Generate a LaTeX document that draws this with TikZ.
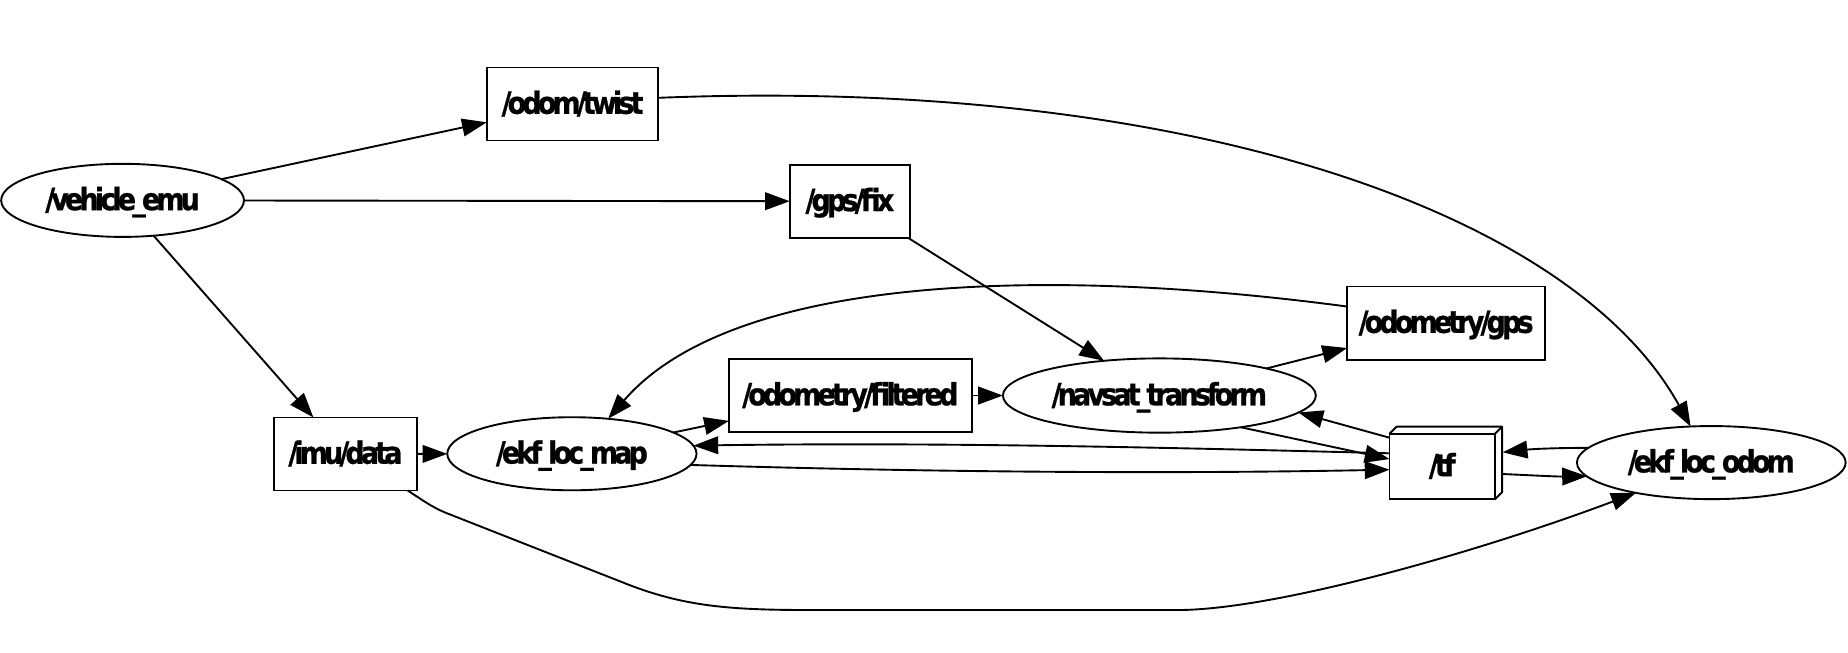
\documentclass[tikz,border=0pt]{standalone}
\usepackage{fontspec}
\newfontfamily\nodefont[FakeStretch=0.88,LetterSpace=-12.5,FakeBold=0.8]{DejaVu Sans}
\usetikzlibrary{arrows.meta,shapes.geometric,calc}
\begin{document}
\begin{tikzpicture}[x=1pt,y=-1pt,
  every node/.style={inner sep=0pt, outer sep=0pt, line width=1.6pt,
    text height=22.6pt, text depth=6pt,
    font=\nodefont\bfseries\fontsize{26}{26}\selectfont},
  topic/.style={draw, rectangle, minimum height=62pt},
  proc/.style={draw, ellipse, minimum height=62pt},
  arr/.style={line width=1.6pt, -{Triangle[length=21pt,width=15pt]}}]
\useasboundingbox (0,0) rectangle (1568,554);
% nodes
\node[proc, minimum width=206pt] (ve) at (104,170) {\makebox[0pt]{/vehicle\_emu}};
\node[topic, minimum width=145.5pt] (tw) at (485.8,88.25) {\makebox[0pt]{/odom/twist}};
\node[topic, minimum width=102pt] (gf) at (721.1,170.8) {\makebox[0pt]{/gps/fix}};
\node[topic, minimum width=168pt] (og) at (1227,274.1) {\makebox[0pt]{/odometry/gps}};
\node[topic, minimum width=206pt] (of) at (721.5,335.6) {\makebox[0pt]{/odometry/filtered}};
\node[proc, minimum width=265.5pt, minimum height=63pt] (nt) at (983.7,335.6) {\makebox[0pt]{/navsat\_transform}};
\node[topic, minimum width=120.7pt] (imu) at (293.1,385.2) {\makebox[0pt]{/imu/data}};
\node[proc, minimum width=211.5pt] (em) at (485.25,385) {\makebox[0pt]{/ekf\_loc\_map}};
\node[topic, minimum width=89.5pt, minimum height=55.5pt] (tf) at (1223.75,395.75) {\makebox[0pt]{/tf}};
\draw[line width=1.6pt, line join=round] (tf.north west) -- ++(6,-6) -- ++(89.5,0) -- ++(0,55.5) -- (tf.south east);
\draw[line width=1.6pt] (tf.north east) -- ++(6,-6);
\node[proc, minimum width=228pt] (eo) at (1452,392.5) {\makebox[0pt]{/ekf\_loc\_odom}};
% straight edges
\draw[arr] (ve) -- (tw);
\draw[arr] (ve) -- (gf);
\draw[arr] (ve) -- (imu);
\draw[arr] (gf) -- (nt);
\draw[arr] (nt) -- (og);
\draw[arr] (of) -- (nt);
\draw[arr] (em) -- (of);
\draw[arr] (imu) -- (em);
% curved edges
\draw[arr] ($(tw.east)+(0,-5.25)$) .. controls (1008,65) and (1334.5,180.6) .. ($(eo)+(-17.5,-30.6)$);
\draw[arr] ($(og.west)+(0,-14)$) .. controls (880,225) and (620,235) .. ($(em)+(30.8,-29.7)$);
\draw[arr] ($(imu.south east)+(-7.5,0)$) .. controls (358,424) and (366,430) .. (378,435)
  -- (528,494) .. controls (580,515) and (620,517.6) .. (690,517.6) -- (999,517.6)
  .. controls (1080,517.6) and (1250,470) .. ($(eo)+(-64,25.7)$);
\draw[arr] ($(tf.west)+(0,-11.15)$) .. controls (1000,380) and (800,375) .. ($(em)+(103.1,-6.9)$);
\draw[arr] ($(em)+(100.7,9.5)$) .. controls (800,401) and (1000,402) .. ($(tf.west)+(0,2.75)$);
\draw[arr] ($(nt)+(69,26.9)$) -- ($(tf.west)+(0,-6.25)$);
\draw[arr] ($(tf.west)+(0,-24.35)$) -- ($(nt)+(118,14.4)$);
\draw[arr] ($(eo)+(-104,-12.5)$) .. controls (1320,380) and (1300,381) .. ($(tf)+(51.25,-12)$);
\draw[arr] ($(tf)+(51.25,6.45)$) .. controls (1300,403.3) and (1320,404.4) .. ($(eo)+(-105.5,11.6)$);
\end{tikzpicture}
\end{document}
